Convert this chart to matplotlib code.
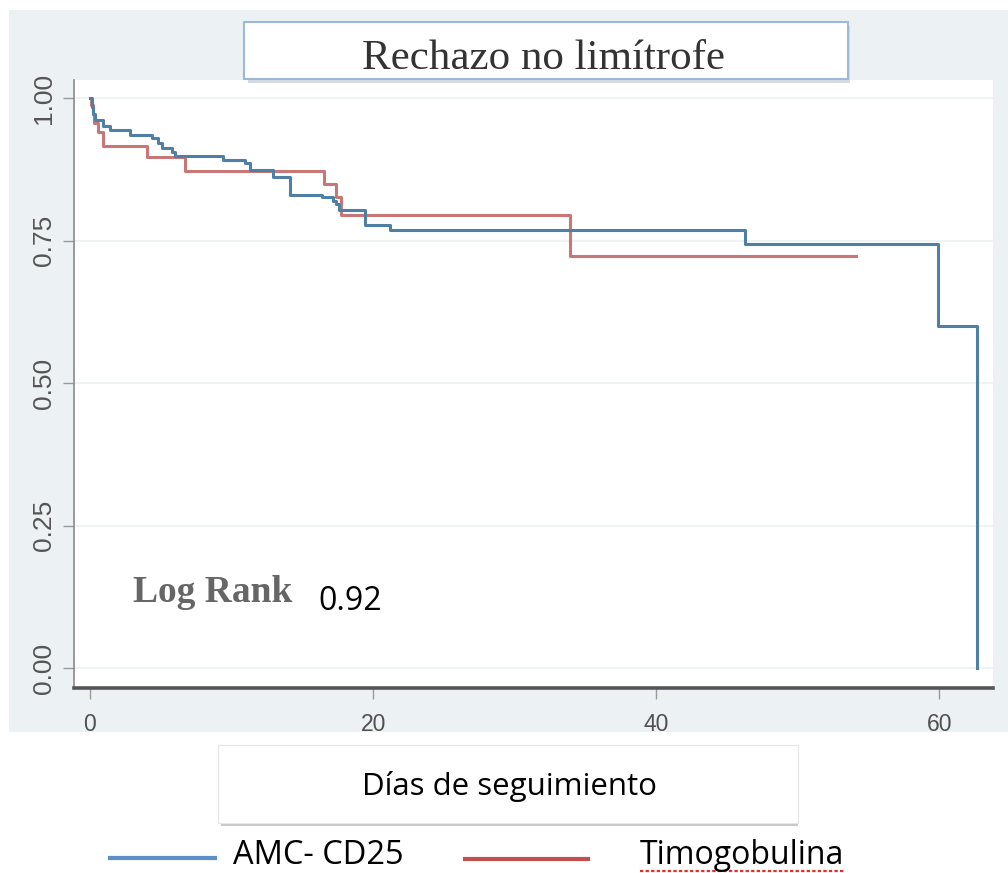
import matplotlib
matplotlib.use("Agg")
import matplotlib.pyplot as plt
from matplotlib.patches import Rectangle

# ---- data (Kaplan-Meier step curves) ----
amc_t = [0, 0.12, 0.22, 0.35, 0.9, 1.4, 2.8, 4.4, 4.8, 5.1, 5.8, 6.0, 9.4, 10.95, 11.3, 12.9, 14.1, 16.4, 17.2, 17.4, 17.6, 19.4, 21.2, 46.3, 59.9, 62.7, 62.7]
amc_s = [1.00, 0.985, 0.972, 0.961, 0.952, 0.944, 0.935, 0.930, 0.921, 0.912, 0.905, 0.898, 0.891, 0.886, 0.874, 0.861, 0.830, 0.826, 0.820, 0.815, 0.803, 0.778, 0.769, 0.744, 0.600, 0.600, 0.0]
timo_t = [0, 0.1, 0.2, 0.3, 0.57, 0.94, 4.0, 6.7, 16.5, 17.4, 17.7, 33.9, 54.1]
timo_s = [1.00, 0.988, 0.972, 0.956, 0.940, 0.916, 0.896, 0.873, 0.849, 0.826, 0.795, 0.724, 0.724]

x_ticks = [0, 20, 40, 60]
y_ticks = [0.00, 0.25, 0.50, 0.75, 1.00]
y_tick_labels = ["0.00", "0.25", "0.50", "0.75", "1.00"]
series_names = ["AMC- CD25", "Timogobulina"]
title_text = "Rechazo no limítrofe"
xlabel_text = "Días de seguimiento"
logrank_label = "Log Rank"
logrank_value = "0.92"

W, H = 1008, 873
fig = plt.figure(figsize=(W / 100, H / 100), dpi=100)
fig.patch.set_facecolor("white")

def fx(px):
    return px / W

def fy(py):
    return 1 - py / H

# outer light background
fig.patches.append(Rectangle((fx(9), fy(732)), fx(1008 - 9), (732 - 10) / H,
                             transform=fig.transFigure, facecolor="#ECF2F4",
                             edgecolor="none", zorder=-5))

ax = fig.add_axes([fx(74), fy(688), fx(993 - 74), (688 - 80) / H])
ax.set_zorder(1)
ax.set_facecolor("white")
ax.set_xlim(-1.13, 63.8)
ax.set_ylim(-0.035, 1.032)

for y in y_ticks:
    ax.axhline(y, color="#EEF4F5", lw=1.5, zorder=0)

ax.step(amc_t, amc_s, where="post", color="#4F7FA4", lw=2.2, zorder=3)
ax.step(timo_t, timo_s, where="post", color="#C97676", lw=2.2, zorder=2)

for s in ["top", "right"]:
    ax.spines[s].set_visible(False)
ax.spines["bottom"].set_color("#555555")
ax.spines["bottom"].set_linewidth(2.6)
ax.spines["left"].set_color("#8A8A8A")
ax.spines["left"].set_linewidth(1.2)

ax.set_xticks(x_ticks)
ax.set_xticklabels([str(v) for v in x_ticks], fontsize=16.5, color="#505050",
                   family="Liberation Sans")
ax.set_yticks(y_ticks)
ax.set_yticklabels(y_tick_labels, fontsize=19, color="#555555",
                   family="Liberation Sans", rotation=90, va="center")
ax.tick_params(axis="x", length=8, width=1, color="#999999", pad=10)
ax.tick_params(axis="y", length=8, width=1, color="#999999", pad=5)

# Log rank annotation
fig.text(fx(133), fy(593), logrank_label, family="Liberation Serif", fontsize=27,
         fontweight="bold", color="#666666", va="center", ha="left", zorder=10)
fig.text(fx(318), fy(601), logrank_value, family="Open Sans", fontsize=23,
         color="black", va="center", ha="left", zorder=10)

# title box
fig.patches.append(Rectangle((fx(248), fy(83)), fx(850 - 248), (83 - 26) / H,
                             transform=fig.transFigure, facecolor="#D5DAE0",
                             edgecolor="none", zorder=4))
fig.patches.append(Rectangle((fx(244), fy(79)), fx(848 - 244), (79 - 22) / H,
                             transform=fig.transFigure, facecolor="white",
                             edgecolor="#9DB8D8", lw=1.5, zorder=5))
fig.text(fx(544), fy(59), title_text, family="Liberation Serif", fontsize=31,
         color="#333333", ha="center", va="center", zorder=6)

# x label box
fig.patches.append(Rectangle((fx(221), fy(826)), fx(798 - 221), (826 - 748) / H,
                             transform=fig.transFigure, facecolor="#C8C8C8",
                             edgecolor="none", zorder=4))
fig.patches.append(Rectangle((fx(218), fy(823)), fx(798 - 218), (823 - 745) / H,
                             transform=fig.transFigure, facecolor="white",
                             edgecolor="#E6E6E6", lw=0.8, zorder=5))
fig.text(fx(509), fy(787), xlabel_text, family="Open Sans", fontsize=22.5,
         color="black", ha="center", va="center", zorder=6)

# legend
fig.lines.append(plt.Line2D([fx(110), fx(215)], [fy(858), fy(858)], transform=fig.transFigure,
                            color="#5C8FC6", lw=3))
fig.text(fx(233), fy(856), series_names[0], family="Open Sans", fontsize=23.5,
         color="black", ha="left", va="center")
fig.lines.append(plt.Line2D([fx(465), fx(588)], [fy(859), fy(859)], transform=fig.transFigure,
                            color="#C0504D", lw=3))
fig.text(fx(640), fy(856), series_names[1], family="Open Sans", fontsize=23,
         color="black", ha="left", va="center")
fig.lines.append(plt.Line2D([fx(640), fx(845)], [fy(871), fy(871)], transform=fig.transFigure,
                            color="#E03030", lw=1.6, ls=(0, (1.5, 1))))

fig.savefig("out.png", dpi=100)
